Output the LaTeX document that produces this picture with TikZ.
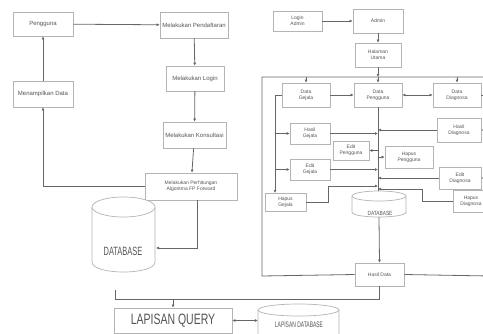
\documentclass[tikz,border=0pt]{standalone}
\usepackage{fontspec}
\setmainfont{Liberation Sans}
\usetikzlibrary{arrows.meta}
\definecolor{boxc}{HTML}{B4B4B4}
\definecolor{linec}{HTML}{666666}
\definecolor{txtc}{HTML}{555555}
\newcommand\mycyl[6]{% name, cx, cy, w, h, b
  \node[inner sep=0pt,minimum width=#4pt,minimum height=#5pt] (#1) at (#2,#3) {};
  \path[cylst] ({#2-#4/2},{#3-#5/2+#6}) -- ({#2-#4/2},{#3+#5/2-#6})
     .. controls ({#2-#4/2},{#3+#5/2+0.333*#6}) and ({#2+#4/2},{#3+#5/2+0.333*#6}) ..
     ({#2+#4/2},{#3+#5/2-#6}) -- ({#2+#4/2},{#3-#5/2+#6});
  \path[cylst] (#2,{#3-#5/2+#6}) ellipse [x radius=#4/2, y radius=#6];
}
\begin{document}
\begin{tikzpicture}[x=1pt,y=-1pt,
  box/.style={draw=boxc,line width=0.7pt,fill=white,inner sep=0pt,align=center,text=txtc,font=\fontsize{5}{5.6}\selectfont},
  lbox/.style={box,font=\fontsize{6}{7}\selectfont},
  ln/.style={draw=linec,line width=0.8pt},
  ar/.style={ln,-{Latex[length=3pt,width=3pt]}},
  dar/.style={ln,{Latex[length=3pt,width=3pt]}-{Latex[length=3pt,width=3pt]}},
  cylst/.style={draw=boxc,line width=0.7pt,fill=white},
  txt/.style={inner sep=0pt,text=txtc}]
\useasboundingbox (0,0) rectangle (483,333);
% ---------- left part ----------
\node[lbox,minimum width=60pt,minimum height=24pt] (peng) at (43,24) {Pengguna};
\node[lbox,minimum width=68pt,minimum height=26pt] (daftar) at (194,25) {Melakukan Pendaftaran};
\node[lbox,minimum width=58pt,minimum height=25pt] (login) at (195,78.5) {Melakukan Login};
\node[lbox,minimum width=60pt,minimum height=26pt] (tampil) at (43,94) {Menampilkan Data};
\node[lbox,minimum width=63pt,minimum height=26pt] (konsul) at (194.5,135) {Melakukan Konsultasi};
\node[box,minimum width=92pt,minimum height=27pt] (hitung) at (191,186.5) {Melakukan Perhitungan\\Algoritma FP Forward};
\mycyl{db1}{123.5}{234.5}{63}{75}{10}
\node[txt,font=\fontsize{12}{12}\selectfont] (db1t) at (123,251) {\scalebox{0.62}[1]{DATABASE}};
\node[box,minimum width=118pt,minimum height=25pt,font=\fontsize{15}{15}\selectfont] (query) at (173,320.5) {\scalebox{0.7}[1]{LAPISAN QUERY}};
\mycyl{lapdb}{298.5}{324}{81}{40}{6}
\node[txt,font=\fontsize{8}{8}\selectfont] (lapdbt) at (299,325) {\scalebox{0.62}[1]{LAPISAN DATABASE}};

\draw[ar] (peng) -- (daftar);
\draw[ar] (daftar) -- (login);
\draw[ar] (login) -- (konsul);
\draw[ar] (konsul) -- (hitung);
\draw[ar] (hitung.west) -| (tampil.south);
\draw[ar] (tampil) -- (peng);
\coordinate (h1) at (197,200);
\coordinate (h2) at (156,248);
\draw[ar] (h1) |- (h2);

% ---------- right part ----------
\node[box,minimum width=49pt,minimum height=20pt] (ladmin) at (297.5,21) {Login\\Admin};
\node[box,minimum width=50pt,minimum height=24pt] (admin) at (378,21) {Admin};
\node[box,minimum width=46pt,minimum height=24pt] (halaman) at (378,55) {Halaman\\Utama};
\node[box,minimum width=48pt,minimum height=24pt] (dgejala) at (306,95) {Data\\Gejala};
\node[box,minimum width=48pt,minimum height=24pt] (dpengguna) at (378,95) {Data\\Pengguna};
\node[box,minimum width=48pt,minimum height=24pt] (ddiagnosa) at (457,95) {Data\\Diagnosa};
\node[box,minimum width=40pt,minimum height=21pt] (hgejala) at (310,133.5) {Hasil\\Gejala};
\node[box,minimum width=40pt,minimum height=21pt] (egejala) at (310,169.5) {Edit\\Gejala};
\node[box,minimum width=41pt,minimum height=18pt] (hpgejala) at (285.5,202) {Hapus\\Gejala};
\node[box,minimum width=36pt,minimum height=19pt] (epengguna) at (351,150.5) {Edit\\Pengguna};
\node[box,minimum width=48pt,minimum height=22pt] (hppengguna) at (409,157) {Hapus\\Pengguna};
\node[box,minimum width=44pt,minimum height=24pt] (hdiagnosa) at (459,130) {Hasil\\Diagnosa};
\node[box,minimum width=42pt,minimum height=22pt] (ediagnosa) at (460,178) {Edit\\Diagnosa};
\node[box,minimum width=36pt,minimum height=22pt] (hpdiagnosa) at (471,201) {Hapus\\Diagnosa};
\mycyl{db2}{379}{204}{54}{26}{5}
\node[txt,font=\fontsize{6}{6}\selectfont] (db2t) at (380,213) {\scalebox{0.8}[1]{DATABASE}};
\node[box,minimum width=49pt,minimum height=23pt] (hasil) at (379.5,274.5) {Hasil Data};

\draw[ar] (ladmin) -- (admin);
\draw[ar] (admin) -- (halaman);
\coordinate (ft) at (378,77);
\draw[ar] (halaman) -- (ft);
\draw[ar] (ft) -- (dpengguna);
\coordinate (frr) at (490,77);
\coordinate (frl) at (262,77);
\coordinate (frb) at (262,276);
\coordinate (frr2) at (490,276);
\draw[ln] (frr) -- (frl) -- (frb) -- (hasil.west);
\draw[ln] (hasil.east) -- (frr2);
\draw[ar] (dgejala.north |- ft) -- (dgejala.north);
\draw[ar] (ddiagnosa.north |- ft) -- (ddiagnosa.north);
\draw[ar] (dgejala) -- (dpengguna);
\draw[dar] (dpengguna) -- (ddiagnosa);
% left branch
\coordinate (lv1) at (275,95);
\coordinate (lv2) at (275,193);
\draw[ln] (dgejala.west) -- (lv1);
\draw[ar] (lv1) -- (lv2);
\draw[ar] (lv1 |- hgejala) -- (hgejala.west);
\draw[ar] (lv1 |- egejala) -- (egejala.west);
% central line
\coordinate (dbt) at (378,191);
\draw[ln] (dpengguna.south) -- (dbt);
\draw[ar] (hgejala.east) -- (ft |- hgejala);
\draw[ar] (egejala.east) -- (ft |- egejala);
\coordinate (g1) at (328,202);
\coordinate (g2) at (328,186);
\coordinate (g3) at (378,186);
\draw[ar] (hpgejala.east) -- (g1) -- (g2) -- (g3);
\draw[ar] (ft |- epengguna) -- (epengguna.east);
\draw[ar] (ft |- hppengguna) -- (hppengguna.west);
\draw[ar] (hdiagnosa.west) -- (ft |- hdiagnosa);
\draw[ar] (ediagnosa.west) -- (ft |- ediagnosa);
\coordinate (d1) at (422,201);
\coordinate (d2) at (422,189);
\coordinate (d3) at (378,189);
\draw[ar] (hpdiagnosa.west) -- (d1) -- (d2) -- (d3);
% right branch
\coordinate (rv1) at (485,95);
\coordinate (rv2) at (485,205);
\draw[ln] (ddiagnosa.east) -- (rv1) -- (rv2);
\draw[ar] (rv1 |- hdiagnosa) -- (hdiagnosa.east);
\draw[ar] (rv1 |- ediagnosa) -- (ediagnosa.east);
\draw[ar] (db2.south) -- (hasil.north);

% ---------- bottom ----------
\coordinate (b1) at (115,290);
\coordinate (b2) at (115,299);
\coordinate (b3) at (hasil.south |- b2);
\draw[ln] (hasil.south) -- (b3) -- (b2) -- (b1);
\draw[ar] (query.north |- b2) -- (query.north);
\draw[dar] (query.east) -- (query.east -| lapdb.west);
\end{tikzpicture}
\end{document}
